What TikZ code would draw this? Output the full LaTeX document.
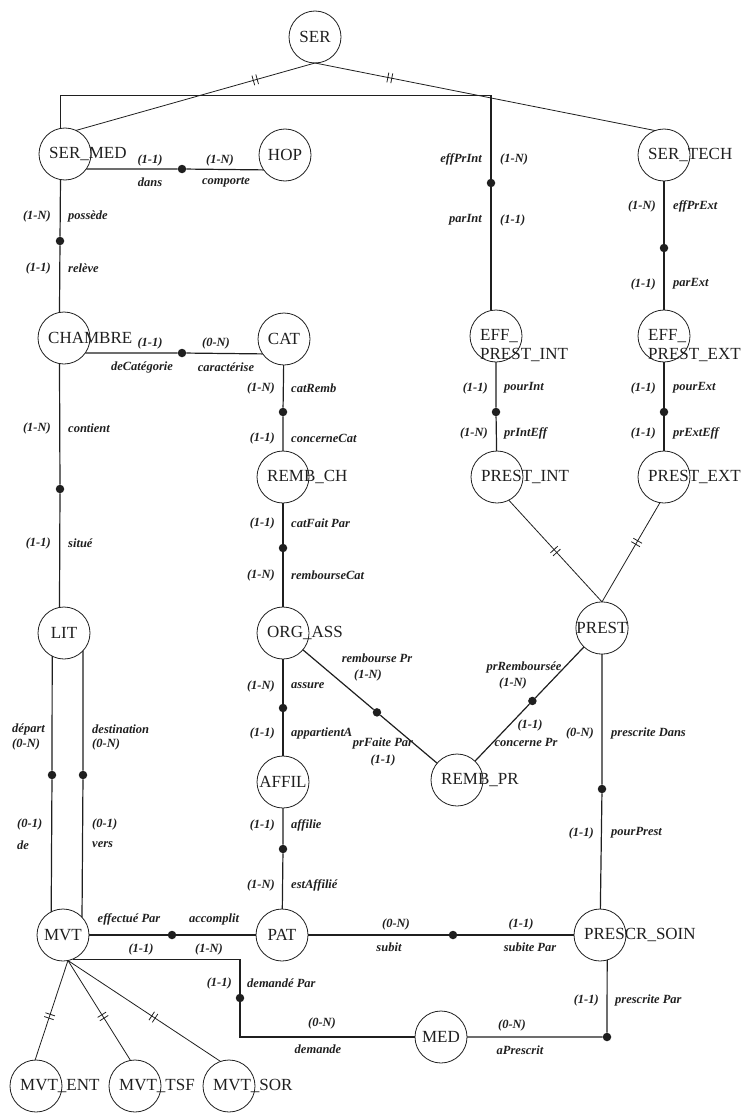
\documentclass[tikz,border=0pt]{standalone}
\usepackage{fontspec}
\setmainfont{Liberation Serif}
\usetikzlibrary{decorations.markings,calc}
\definecolor{ink}{gray}{0.12}

\begin{document}
\begin{tikzpicture}[x=1pt,y=-1pt,color=ink,
    ent/.style={circle,draw,line width=.8pt,minimum size=52pt,inner sep=0pt,outer sep=0pt,
      font=\fontsize{17}{19}\selectfont},
    nom/.style={label={[anchor=west,xshift=10pt,inner sep=0pt,
      font=\fontsize{17}{19}\selectfont]west:#1}},
    nom2/.style={label={[anchor=west,xshift=10pt,yshift=-10pt,inner sep=0pt,align=left,
      font=\fontsize{17}{19}\selectfont]west:#1}},
    rel/.style={circle,fill,inner sep=0pt,minimum size=8.5pt},
    card/.style={inner sep=0pt,font=\fontsize{12.5}{13}\selectfont\bfseries\itshape},
    lien/.style={line width=1.2pt},
    isa/.style={line width=.8pt,postaction={decorate},decoration={markings,
      mark=at position #1 with {\draw[line width=.8pt] (-2pt,-5pt) -- (-2pt,5pt) (2pt,-5pt) -- (2pt,5pt);}}}
  ]
  \useasboundingbox (0,0) rectangle (741,1113);

  % entites
  \node[ent] (ser) at (315,37) {SER};
  \node[ent,nom=SER\_MED] (sermed) at (65,154) {};
  \node[ent] (hop) at (285,155) {HOP};
  \node[ent,nom=SER\_TECH] (sertech) at (664,155) {};
  \node[ent,nom=CHAMBRE] (chambre) at (64,338) {};
  \node[ent] (cat) at (284,339) {CAT};
  \node[ent,nom2={EFF\_\\PREST\_INT}] (effint) at (496,336) {};
  \node[ent,nom2={EFF\_\\PREST\_EXT}] (effext) at (664,336) {};
  \node[ent,nom=REMB\_CH] (rembch) at (283,477) {};
  \node[ent,nom=PREST\_INT] (prestint) at (497,477) {};
  \node[ent,nom=PREST\_EXT] (prestext) at (664,477) {};
  \node[ent] (lit) at (64,633) {LIT};
  \node[ent,nom=ORG\_ASS] (org) at (283,633) {};
  \node[ent] (prest) at (602,628) {PREST};
  \node[ent] (affil) at (283,782) {AFFIL};
  \node[ent,nom=REMB\_PR] (rembpr) at (457,780) {};
  \node[ent] (mvt) at (63,935) {MVT};
  \node[ent] (pat) at (282,935) {PAT};
  \node[ent,nom=PRESCR\_SOIN] (prescr) at (600,935) {};
  \node[ent] (med) at (441,1037) {MED};
  \node[ent,nom=MVT\_ENT] (mvtent) at (36,1086) {};
  \node[ent,nom=MVT\_TSF] (mvttsf) at (135,1086) {};
  \node[ent,nom=MVT\_SOR] (mvtsor) at (229,1086) {};

  % associations
  \node[rel] (rdans) at (182,169) {};
  \node[rel] (rposs) at (60,241) {};
  \node[rel] (rcat) at (182,353) {};
  \node[rel] (rcont) at (60,489) {};
  \node[rel] (rint) at (491,183) {};
  \node[rel] (rext) at (664,248) {};
  \node[rel] (rpint) at (496,412) {};
  \node[rel] (rpext) at (664,412) {};
  \node[rel] (rcatr) at (283,412) {};
  \node[rel] (rcatp) at (283,548) {};
  \node[rel] (rass) at (283,708) {};
  \node[rel] (raff) at (283,849) {};
  \node[rel] (rrpr) at ($(org)!.54!(rembpr)$) {};
  \node[rel] (rprr) at ($(prest)!.48!(rembpr)$) {};
  \node[rel] (rdep) at (52,775) {};
  \node[rel] (rdst) at (83,775) {};
  \node[rel] (racc) at (172,935) {};
  \node[rel] (rsub) at (453,935) {};
  \node[rel] (rdem) at (240,998) {};
  \node[rel] (rpres) at (602,789) {};
  \node[rel] (rpp) at (607,1037) {};

  % pattes
  \draw[lien] (sermed.-35) -- (rdans) -- (hop.215);
  \draw[lien] (sermed.-100) -- (rposs) -- (chambre.100);
  \draw[lien] (chambre.-35) -- (rcat) -- (cat.215);
  \draw[lien] (chambre.-100) -- (rcont) -- (lit.100);
  \draw[lien] (sermed.100) -- ++(0,-33) -| (rint) -- (rint |- effint.north);
  \draw[lien] (sertech) -- (rext) -- (effext);
  \draw[lien] (effint) -- (rpint) -- (prestint);
  \draw[lien] (effext) -- (rpext) -- (prestext);
  \draw[lien] (cat) -- (rcatr) -- (rembch);
  \draw[lien] (rembch) -- (rcatp) -- (org);
  \draw[lien] (org) -- (rass) -- (affil);
  \draw[lien] (affil) -- (raff) -- (pat);
  \draw[lien] (org) -- (rrpr) -- (rembpr);
  \draw[lien] (prest) -- (rprr) -- (rembpr);
  \draw[lien] (lit.-117) -- (rdep) -- (mvt.117);
  \draw[lien] (lit.-43) -- (rdst) -- (mvt.43);
  \draw[lien] (mvt) -- (racc) -- (pat);
  \draw[lien] (pat) -- (rsub) -- (prescr);
  \draw[lien] (mvt.-68) -| (rdem) |- (med);
  \draw[lien] (prest) -- (rpres) -- (prescr);
  \draw[lien] (med) -- (rpp) -- (prescr.-74);

  % sous-types
  \draw[isa=.25] (ser.south) -- (sermed.65);
  \draw[isa=.22] (ser.south) -- (sertech.110);
  \draw[isa=.5] (prest.north) -- (prestint.-63);
  \draw[isa=.6] (prest.north) -- (prestext.-99);
  \draw[isa=.56] (mvt.-79) -- (mvtent.92);
  \draw[isa=.56] (mvt.-79) -- (mvttsf.100);
  \draw[isa=.56] (mvt.-79) -- (mvtsor.109);

  % cardinalites et roles
  \node[card] (dans1) at (150,160) {(1-1)};
  \node[card] (dans2) at (150,182) {dans};
  \node[card] (comp1) at (220,160) {(1-N)};
  \node[card] (comp2) at (226,182) {comporte};
  \node[card] (decat1) at (150,343) {(1-1)};
  \node[card] (decat2) at (142,367) {deCatégorie};
  \node[card] (cara1) at (216,343) {(0-N)};
  \node[card] (cara2) at (226,367) {caractérise};
  \node[card] (eff1) at (129,919) {effectué Par};
  \node[card] (acc1) at (214,919) {accomplit};
  \node[card] (eff2) at (141,949) {(1-1)};
  \node[card] (acc2) at (209,949) {(1-N)};
  \node[card] (sub1) at (396,924) {(0-N)};
  \node[card] (sub2) at (389,947) {subit};
  \node[card] (subp1) at (521,924) {(1-1)};
  \node[card] (subp2) at (530,947) {subite Par};
  \node[card] (apr1) at (512,1025) {(0-N)};
  \node[card] (apr2) at (520,1050) {aPrescrit};
  \node[card] (dmd1) at (322,1023) {(0-N)};
  \node[card] (dmd2) at (318,1049) {demande};

  \node[card,anchor=east] (poss1) at (51,216) {(1-N)};
  \node[card,anchor=west] (poss2) at (68,216) {possède};
  \node[card,anchor=east] (rel1) at (51,268) {(1-1)};
  \node[card,anchor=west] (rel2) at (68,268) {relève};
  \node[card,anchor=east] (cont1) at (51,428) {(1-N)};
  \node[card,anchor=west] (cont2) at (68,428) {contient};
  \node[card,anchor=east] (sit1) at (51,543) {(1-1)};
  \node[card,anchor=west] (sit2) at (68,543) {situé};
  \node[card,anchor=east] (efi1) at (482,159) {effPrInt};
  \node[card,anchor=west] (efi2) at (500,159) {(1-N)};
  \node[card,anchor=east] (pri1) at (482,220) {parInt};
  \node[card,anchor=west] (pri2) at (500,220) {(1-1)};
  \node[card,anchor=east] (efe1) at (656,206) {(1-N)};
  \node[card,anchor=west] (efe2) at (673,206) {effPrExt};
  \node[card,anchor=east] (pre1) at (656,284) {(1-1)};
  \node[card,anchor=west] (pre2) at (673,284) {parExt};
  \node[card,anchor=east] (pin1) at (488,388) {(1-1)};
  \node[card,anchor=west] (pin2) at (504,388) {pourInt};
  \node[card,anchor=east] (pie1) at (488,433) {(1-N)};
  \node[card,anchor=west] (pie2) at (504,433) {prIntEff};
  \node[card,anchor=east] (pex1) at (656,388) {(1-1)};
  \node[card,anchor=west] (pex2) at (673,388) {pourExt};
  \node[card,anchor=east] (pee1) at (656,433) {(1-1)};
  \node[card,anchor=west] (pee2) at (673,433) {prExtEff};
  \node[card,anchor=east] (crb1) at (275,388) {(1-N)};
  \node[card,anchor=west] (crb2) at (291,388) {catRemb};
  \node[card,anchor=east] (ccc1) at (275,438) {(1-1)};
  \node[card,anchor=west] (ccc2) at (291,438) {concerneCat};
  \node[card,anchor=east] (cfp1) at (275,523) {(1-1)};
  \node[card,anchor=west] (cfp2) at (291,523) {catFait Par};
  \node[card,anchor=east] (rbc1) at (275,575) {(1-N)};
  \node[card,anchor=west] (rbc2) at (291,575) {rembourseCat};
  \node[card,anchor=east] (ass1) at (275,686) {(1-N)};
  \node[card,anchor=west] (ass2) at (291,686) {assure};
  \node[card,anchor=east] (app1) at (275,733) {(1-1)};
  \node[card,anchor=west] (app2) at (291,733) {appartientA};
  \node[card,anchor=east] (afl1) at (275,825) {(1-1)};
  \node[card,anchor=west] (afl2) at (291,825) {affilie};
  \node[card,anchor=east] (eaf1) at (275,885) {(1-N)};
  \node[card,anchor=west] (eaf2) at (291,885) {estAffilié};
  \node[card,anchor=east] (psd1) at (594,733) {(0-N)};
  \node[card,anchor=west] (psd2) at (611,733) {prescrite Dans};
  \node[card,anchor=east] (ppr1) at (594,833) {(1-1)};
  \node[card,anchor=west] (ppr2) at (611,833) {pourPrest};
  \node[card,anchor=east] (psp1) at (599,1000) {(1-1)};
  \node[card,anchor=west] (psp2) at (615,1000) {prescrite Par};
  \node[card,anchor=east] (dmp1) at (232,983) {(1-1)};
  \node[card,anchor=west] (dmp2) at (247,983) {demandé Par};

  \node[card,anchor=west] (dep1) at (12,729) {départ};
  \node[card,anchor=west] (dep2) at (12,744) {(0-N)};
  \node[card,anchor=west] (de1) at (17,824) {(0-1)};
  \node[card,anchor=west] (de2) at (17,845) {de};
  \node[card,anchor=west] (dst1) at (92,729) {destination};
  \node[card,anchor=west] (dst2) at (92,744) {(0-N)};
  \node[card,anchor=west] (vers1) at (92,824) {(0-1)};
  \node[card,anchor=west] (vers2) at (92,845) {vers};

  \node[card] (rpr1) at (377,658) {rembourse Pr};
  \node[card] (rpr2) at (368,675) {(1-N)};
  \node[card] (pfp1) at (383,743) {prFaite Par};
  \node[card] (pfp2) at (383,760) {(1-1)};
  \node[card] (prb1) at (524,667) {prRemboursée};
  \node[card] (prb2) at (513,683) {(1-N)};
  \node[card] (cpr1) at (530,725) {(1-1)};
  \node[card] (cpr2) at (526,742) {concerne Pr};
\end{tikzpicture}
\end{document}
